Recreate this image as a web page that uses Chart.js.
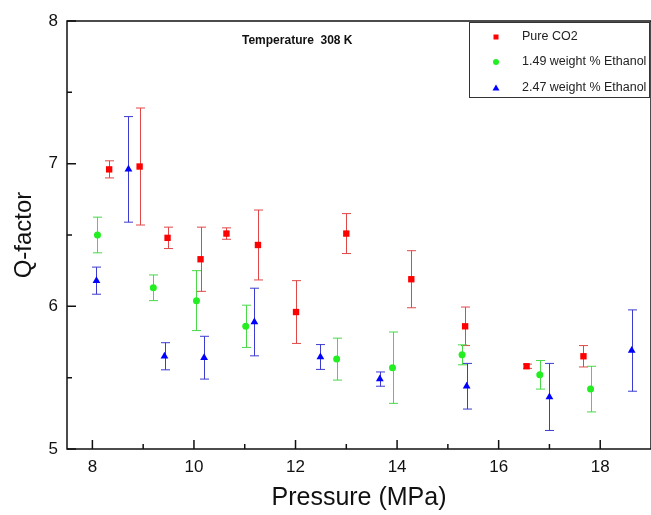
<!DOCTYPE html>
<html>
<head>
<meta charset="utf-8">
<script src="https://cdn.jsdelivr.net/npm/chart.js@4.4.1/dist/chart.umd.min.js"></script>
<style>
  html, body { margin: 0; padding: 0; background: #fff; }
</style>
</head>
<body>
<canvas id="qChart" width="651" height="515"></canvas>
<script>
// Pressure (MPa), Q-factor and error for each mixture
var co2P   = [8.33, 8.93, 9.48, 10.13, 10.64, 11.26, 12.01, 13.0, 14.28, 15.34, 16.55, 17.67];
var co2Q   = [6.96, 6.98, 6.48, 6.33, 6.51, 6.43, 5.96, 6.51, 6.19, 5.86, 5.58, 5.65];
var co2Err = [0.06, 0.41, 0.075, 0.225, 0.04, 0.245, 0.22, 0.14, 0.2, 0.135, 0.015, 0.075];

var eth149P   = [8.1, 9.2, 10.05, 11.02, 12.81, 13.91, 15.28, 16.81, 17.81];
var eth149Q   = [6.50, 6.13, 6.04, 5.86, 5.63, 5.57, 5.66, 5.52, 5.42];
var eth149Err = [0.125, 0.09, 0.21, 0.148, 0.147, 0.25, 0.07, 0.1, 0.16];

var eth247P   = [8.08, 8.71, 9.42, 10.2, 11.19, 12.49, 13.66, 15.37, 17.0, 18.62];
var eth247Q   = [6.18, 6.96, 5.65, 5.64, 5.89, 5.645, 5.49, 5.44, 5.365, 5.69];
var eth247Err = [0.095, 0.37, 0.095, 0.15, 0.237, 0.087, 0.05, 0.16, 0.235, 0.285];

var xTicks = [8, 10, 12, 14, 16, 18];
var xMinor = [9, 11, 13, 15, 17];
var yTicks = [5, 6, 7, 8];
var yMinor = [5.5, 6.5, 7.5];

var seriesNames = ["Pure CO2", "1.49 weight % Ethanol", "2.47 weight % Ethanol"];

function pts(xs, ys) {
    return xs.map(function (v, i) { return { x: v, y: ys[i] }; });
}

Chart.defaults.font.family = "'Liberation Sans', Arial, sans-serif";
Chart.defaults.color = "#111";

// error bars, frame, inward ticks, label and legend box
var decor = {
    id: "decor",
    beforeDatasetsDraw: function (chart) {
        var ctx = chart.ctx, x = chart.scales.x, y = chart.scales.y;
        ctx.save();
        ctx.lineWidth = 1;
        chart.data.datasets.forEach(function (ds) {
            ctx.strokeStyle = ds.errColor;
            ds.data.forEach(function (p, i) {
                var px = Math.round(x.getPixelForValue(p.x)) + 0.5;
                var top = y.getPixelForValue(p.y + ds.errors[i]);
                var bot = y.getPixelForValue(p.y - ds.errors[i]);
                ctx.beginPath();
                ctx.moveTo(px, top); ctx.lineTo(px, bot);
                ctx.moveTo(px - 4.5, top); ctx.lineTo(px + 4.5, top);
                ctx.moveTo(px - 4.5, bot); ctx.lineTo(px + 4.5, bot);
                ctx.stroke();
            });
        });
        ctx.restore();
    },
    afterDatasetsDraw: function (chart) {
        var ctx = chart.ctx, a = chart.chartArea, x = chart.scales.x, y = chart.scales.y;
        ctx.save();
        ctx.strokeStyle = "#111";
        ctx.lineWidth = 1.5;
        ctx.strokeRect(a.left, a.top, a.right - a.left, a.bottom - a.top);

        ctx.beginPath();
        xTicks.forEach(function (v) { var p = x.getPixelForValue(v); ctx.moveTo(p, a.bottom); ctx.lineTo(p, a.bottom - 9); });
        xMinor.forEach(function (v) { var p = x.getPixelForValue(v); ctx.moveTo(p, a.bottom); ctx.lineTo(p, a.bottom - 5); });
        yTicks.forEach(function (v) { var p = y.getPixelForValue(v); ctx.moveTo(a.left, p); ctx.lineTo(a.left + 9, p); });
        yMinor.forEach(function (v) { var p = y.getPixelForValue(v); ctx.moveTo(a.left, p); ctx.lineTo(a.left + 5, p); });
        ctx.stroke();

        ctx.fillStyle = "#111";
        ctx.font = "bold 12px 'Liberation Sans', Arial, sans-serif";
        ctx.textBaseline = "middle";
        ctx.fillText("Temperature  308 K", 242, 41);

        // legend box
        ctx.lineWidth = 1;
        ctx.strokeStyle = "#333";
        ctx.strokeRect(469.5, 22.5, 180, 75);
        ctx.font = "12.5px 'Liberation Sans', Arial, sans-serif";
        var rows = [37, 62, 88];
        chart.data.datasets.forEach(function (ds, i) {
            var cy = rows[i], cx = 496;
            ctx.fillStyle = ds.backgroundColor;
            ctx.beginPath();
            if (ds.pointStyle === "rect") ctx.rect(cx - 2.5, cy - 2.5, 5, 5);
            else if (ds.pointStyle === "circle") ctx.arc(cx, cy, 3, 0, Math.PI * 2);
            else { ctx.moveTo(cx, cy - 3.5); ctx.lineTo(cx + 3.5, cy + 2.5); ctx.lineTo(cx - 3.5, cy + 2.5); ctx.closePath(); }
            ctx.fill();
            ctx.fillStyle = "#222";
            ctx.fillText(seriesNames[i], 522, cy);
        });
        ctx.restore();
    }
};

var chart = new Chart(document.getElementById("qChart"), {
    type: "scatter",
    data: {
        datasets: [{
                label: seriesNames[0],
                data: pts(co2P, co2Q),
                errors: co2Err,
                errColor: "#e04848",
                pointStyle: "rect",
                pointRadius: 4.5,
                backgroundColor: "#ff0000",
                borderColor: "#ff0000",
                borderWidth: 0
            },
            {
                label: seriesNames[1],
                data: pts(eth149P, eth149Q),
                errors: eth149Err,
                errColor: "#48d848",
                pointStyle: "circle",
                pointRadius: 3.5,
                backgroundColor: "#22ee22",
                borderColor: "#22ee22",
                borderWidth: 0
            },
            {
                label: seriesNames[2],
                data: pts(eth247P, eth247Q),
                errors: eth247Err,
                errColor: "#3c3cd0",
                pointStyle: "triangle",
                pointRadius: 4.5,
                backgroundColor: "#0000ff",
                borderColor: "#0000ff",
                borderWidth: 0
            }
        ]
    },
    options: {
        responsive: false,
        animation: false,
        layout: { autoPadding: false, padding: { left: 0, top: 21, right: 0, bottom: 0 } },
        plugins: { legend: { display: false }, tooltip: { enabled: false } },
        scales: {
            x: {
                type: "linear",
                min: 7.5,
                max: 19,
                grid: { display: false, drawTicks: false },
                border: { display: false },
                afterBuildTicks: function (s) { s.ticks = xTicks.map(function (v) { return { value: v }; }); },
                afterFit: function (s) { s.height = 66; },
                ticks: { padding: 8, font: { size: 17 }, maxRotation: 0, autoSkip: false },
                title: { display: true, text: "Pressure (MPa)", font: { size: 25 }, padding: { top: 0, bottom: 2 } }
            },
            y: {
                type: "linear",
                min: 5,
                max: 8,
                grid: { display: false, drawTicks: false },
                border: { display: false },
                afterBuildTicks: function (s) { s.ticks = yTicks.map(function (v) { return { value: v }; }); },
                afterFit: function (s) { s.width = 67; },
                ticks: { padding: 9, font: { size: 17 }, autoSkip: false },
                title: { display: true, text: "Q-factor", font: { size: 24 }, padding: { top: 10, bottom: 0 } }
            }
        }
    },
    plugins: [decor]
});
</script>
</body>
</html>
